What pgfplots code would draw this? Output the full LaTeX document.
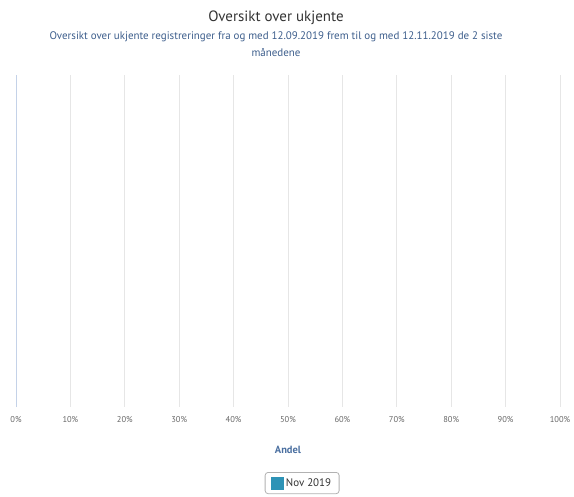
\documentclass[border=0pt]{standalone}
\usepackage{pgfplots}
\pgfplotsset{compat=1.18}
\usetikzlibrary{calc}
\usepackage{fontspec}
\setmainfont{PT Sans}
\definecolor{titlec}{HTML}{333333}
\definecolor{subc}{HTML}{3D5E8C}
\definecolor{tickc}{HTML}{666666}
\definecolor{labc}{HTML}{4A6FA0}
\definecolor{gridc}{HTML}{E6E6E6}
\definecolor{yaxc}{HTML}{C4D2E8}
\definecolor{barc}{HTML}{2E93B6}
\begin{document}
\begin{tikzpicture}
\begin{axis}[
  name=ax,
  scale only axis,
  width=544bp, height=332bp,
  xmin=0, xmax=100, ymin=0, ymax=1,
  xtick={0,10,...,100},
  xticklabels={0\%,10\%,20\%,30\%,40\%,50\%,60\%,70\%,80\%,90\%,100\%},
  ytick=\empty,
  xmajorgrids,
  grid style={draw=gridc, line width=1bp},
  major tick length=0pt,
  separate axis lines,
  axis x line*=bottom,
  x axis line style={draw=none},
  axis y line*=left,
  y axis line style={draw=yaxc, line width=1bp, -},
  axis on top,
  xticklabel style={font=\fontsize{8.5}{10}\selectfont, text=tickc, yshift=-6bp},
  xlabel={\textbf{Andel}},
  xlabel style={font=\fontsize{10.5}{12}\selectfont, text=labc, at={(axis description cs:0.5,0)}, anchor=center, yshift=-43bp},
  legend style={at={(axis description cs:0.526,0)}, anchor=north, yshift=-65bp,
    draw=black!30, line width=0.8bp, rounded corners=3bp, font=\fontsize{11}{12}\selectfont, text=titlec,
    inner xsep=6bp, inner ysep=4bp},
  legend cell align=left,
  legend image code/.code={\fill[barc, sharp corners] (0bp,-6bp) rectangle (12bp,6bp);},
]
\addlegendimage{barc}
\addlegendentry{Nov 2019}
\end{axis}
\node[font=\fontsize{15}{17}\selectfont, text=titlec] at ($(ax.south west)+(260bp,389bp)$) {Oversikt over ukjente};
\node[font=\fontsize{11}{17}\selectfont, text=subc, align=center] at ($(ax.south west)+(260bp,363bp)$) {Oversikt over ukjente registreringer fra og med 12.09.2019 frem til og med 12.11.2019 de 2 siste\\månedene};
\path ($(ax.south west)+(-16bp,-90bp)$) rectangle ($(ax.south west)+(558bp,407bp)$);
\end{tikzpicture}
\end{document}
